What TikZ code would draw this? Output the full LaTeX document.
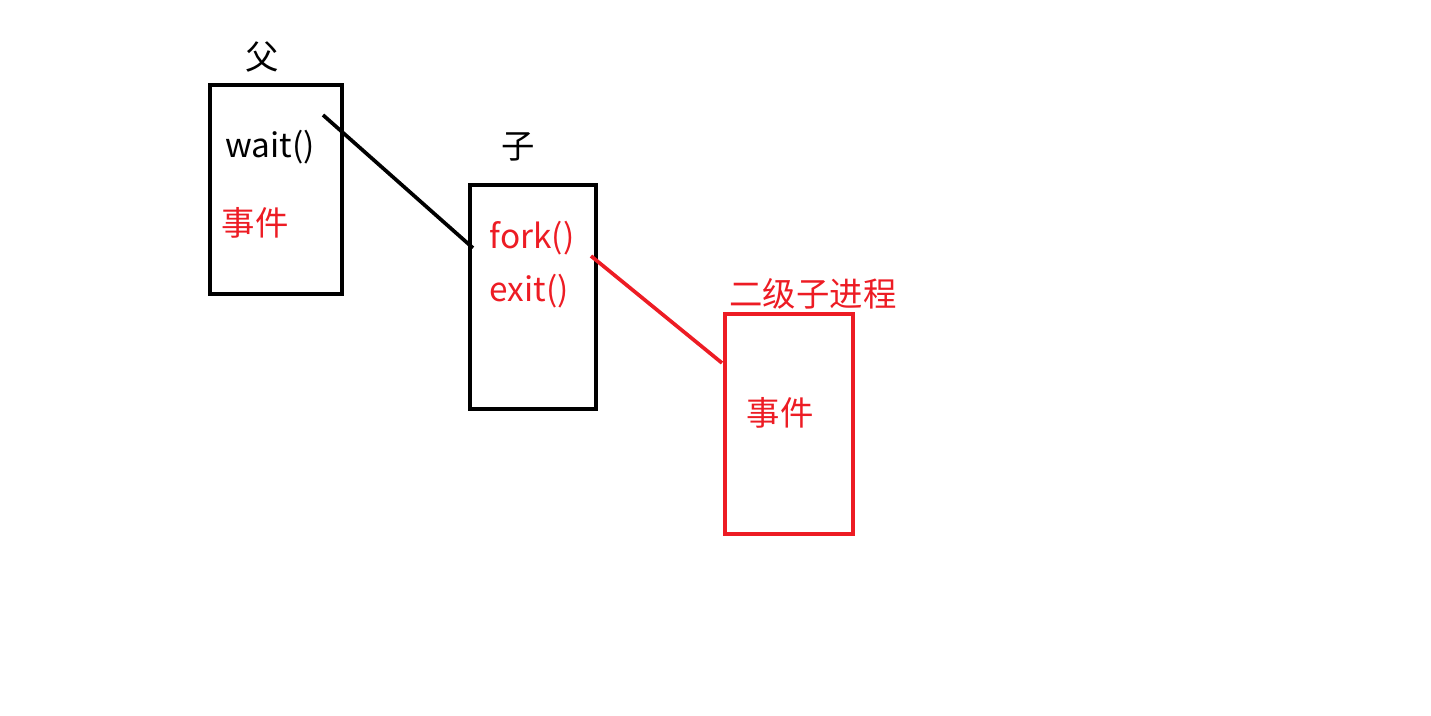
\documentclass[tikz,border=0pt]{standalone}
\usepackage{fontspec}
\setmainfont{Noto Sans CJK SC}
\usepackage{xcolor}
\usepackage{tikz}
\usetikzlibrary{positioning}

\definecolor{paintred}{RGB}{237,28,36}

\begin{document}
\begin{tikzpicture}[
    x=0.02cm, y=-0.02cm,
    proc/.style={rectangle, draw, line width=2.3pt, outer sep=0pt, inner sep=0pt},
    redproc/.style={proc, draw=paintred},
    txt/.style={inner sep=0pt, font=\fontsize{19}{22}\selectfont},
    redtxt/.style={txt, text=paintred},
    link/.style={line width=2.1pt}
]
\useasboundingbox (0,0) rectangle (1431,716);

% Parent process
\node[proc, minimum width=2.64cm, minimum height=4.18cm] (parent) at (276,189.5) {};
\node[txt] (parentlbl) at (262,57) {父};
\node[txt] (wait) at (270,147) {wait()};
\node[redtxt] (event1) at (255,223) {事件};

% Child process
\node[proc, minimum width=2.52cm, minimum height=4.48cm] (child) at (533,297) {};
\node[txt] (childlbl) at (518,147) {子};
\node[redtxt] (fork) at (532,238) {fork()};
\node[redtxt] (exit) at (529,291) {exit()};

% Grandchild process
\node[redproc, minimum width=2.56cm, minimum height=4.4cm] (grand) at (789,424) {};
\node[redtxt] (grandlbl) at (813,294) {二级子进程};
\node[redtxt] (event2) at (780,413) {事件};

% Connections
\coordinate (waitend) at (323,115);
\coordinate (childin) at (473,248);
\coordinate (forkend) at (591,256);
\coordinate (grandin) at (722,363);
\draw[link] (waitend) -- (childin);
\draw[link, paintred] (forkend) -- (grandin);

\end{tikzpicture}
\end{document}
